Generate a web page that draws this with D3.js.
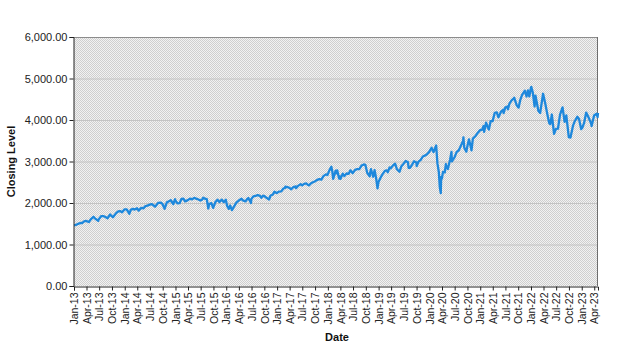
<!DOCTYPE html>
<html><head><meta charset="utf-8">
<script src="https://cdn.jsdelivr.net/npm/d3@7"></script>
<style>body{margin:0;background:#fff;}svg{display:block;}text{font-family:"Liberation Sans",Arial,sans-serif;}</style>
</head><body><div id="chart"></div>
<script>
const dates = ["2013-01-02","2013-01-15","2013-01-31","2013-02-15","2013-02-28","2013-03-15","2013-03-28","2013-04-18","2013-04-30","2013-05-21","2013-05-31","2013-06-24","2013-06-28","2013-07-15","2013-07-31","2013-08-15","2013-08-30","2013-09-18","2013-09-30","2013-10-08","2013-10-31","2013-11-15","2013-11-29","2013-12-13","2013-12-31",
"2014-01-15","2014-02-03","2014-02-14","2014-02-28","2014-03-14","2014-03-31","2014-04-11","2014-04-30","2014-05-15","2014-05-30","2014-06-13","2014-06-30","2014-07-15","2014-07-31","2014-08-07","2014-08-29","2014-09-18","2014-09-30","2014-10-15","2014-10-31","2014-11-14","2014-11-28","2014-12-16","2014-12-29","2014-12-31",
"2015-01-15","2015-01-30","2015-02-13","2015-02-27","2015-03-11","2015-03-31","2015-04-15","2015-04-30","2015-05-15","2015-05-29","2015-06-15","2015-06-29","2015-07-10","2015-07-20","2015-07-31","2015-08-14","2015-08-25","2015-08-31","2015-09-16","2015-09-29","2015-10-15","2015-10-30","2015-11-13","2015-11-30","2015-12-14","2015-12-29","2015-12-31",
"2016-01-08","2016-01-20","2016-01-29","2016-02-11","2016-02-29","2016-03-15","2016-03-31","2016-04-20","2016-04-29","2016-05-19","2016-05-31","2016-06-08","2016-06-27","2016-06-30","2016-07-15","2016-07-29","2016-08-15","2016-08-31","2016-09-09","2016-09-22","2016-09-30","2016-10-14","2016-11-04","2016-11-15","2016-11-30","2016-12-13","2016-12-30",
"2017-01-13","2017-01-31","2017-02-15","2017-02-28","2017-03-01","2017-03-15","2017-03-31","2017-04-13","2017-04-28","2017-05-16","2017-05-17","2017-05-31","2017-06-19","2017-06-30","2017-07-14","2017-07-31","2017-08-10","2017-08-18","2017-08-31","2017-09-15","2017-09-29","2017-10-16","2017-10-31","2017-11-15","2017-11-30","2017-12-18","2017-12-29",
"2018-01-12","2018-01-26","2018-02-02","2018-02-08","2018-02-26","2018-02-28","2018-03-09","2018-03-23","2018-03-29","2018-04-02","2018-04-18","2018-04-30","2018-05-15","2018-05-31","2018-06-12","2018-06-29","2018-07-16","2018-07-31","2018-08-15","2018-08-31","2018-09-20","2018-09-28","2018-10-11","2018-10-29","2018-10-31","2018-11-07","2018-11-23","2018-12-03","2018-12-14","2018-12-24","2018-12-31",
"2019-01-15","2019-01-31","2019-02-15","2019-02-28","2019-03-08","2019-03-21","2019-03-29","2019-04-15","2019-04-30","2019-05-13","2019-05-31","2019-06-14","2019-06-28","2019-07-15","2019-07-31","2019-08-05","2019-08-15","2019-08-30","2019-09-13","2019-09-30","2019-10-02","2019-10-15","2019-10-31","2019-11-15","2019-11-29","2019-12-13","2019-12-31",
"2020-01-17","2020-01-31","2020-02-19","2020-02-28","2020-03-09","2020-03-16","2020-03-23","2020-03-26","2020-03-31","2020-04-08","2020-04-21","2020-04-29","2020-04-30","2020-05-13","2020-05-29","2020-06-08","2020-06-11","2020-06-30","2020-07-15","2020-07-31","2020-08-14","2020-08-31","2020-09-02","2020-09-08","2020-09-23","2020-09-30","2020-10-12","2020-10-30","2020-11-09","2020-11-30","2020-12-15","2020-12-31",
"2021-01-15","2021-01-25","2021-01-29","2021-02-12","2021-02-26","2021-03-04","2021-03-17","2021-03-31","2021-04-15","2021-04-30","2021-05-12","2021-05-31","2021-06-15","2021-06-18","2021-06-30","2021-07-16","2021-07-19","2021-07-30","2021-08-16","2021-08-31","2021-09-02","2021-09-20","2021-09-30","2021-10-04","2021-10-15","2021-10-29","2021-11-18","2021-11-30","2021-12-10","2021-12-20","2021-12-31",
"2022-01-03","2022-01-14","2022-01-27","2022-02-02","2022-02-23","2022-03-08","2022-03-29","2022-04-14","2022-04-29","2022-05-12","2022-05-20","2022-05-31","2022-06-16","2022-06-30","2022-07-14","2022-07-29","2022-08-16","2022-08-31","2022-09-12","2022-09-30","2022-10-12","2022-10-31","2022-11-10","2022-11-30","2022-12-13","2022-12-28","2022-12-30",
"2023-01-05","2023-01-18","2023-02-02","2023-02-17","2023-03-09","2023-03-13","2023-03-31","2023-04-18","2023-04-25","2023-04-28"];
const closes = [1462,1472,1498,1519,1515,1560,1569,1541,1598,1669,1631,1573,1606,1682,1686,1661,1633,1725,1682,1656,1757,1798,1806,1775,1848,
1848,1742,1838,1859,1841,1872,1816,1884,1870,1924,1936,1960,1973,1931,1910,2003,2011,1972,1862,2018,2039,2068,1972,2090,2059,
1992,1995,2097,2105,2040,2068,2106,2086,2123,2107,2085,2058,2077,2129,2104,2092,1868,1972,1996,1884,2024,2079,2023,2080,2021,2078,2044,
1922,1859,1940,1829,1932,2015,2060,2102,2065,2040,2097,2119,2001,2099,2162,2174,2190,2171,2128,2177,2168,2133,2085,2180,2199,2272,2239,
2275,2279,2349,2364,2396,2385,2363,2329,2384,2400,2357,2412,2453,2423,2459,2470,2438,2425,2472,2500,2519,2557,2575,2564,2648,2690,2674,
2786,2873,2762,2581,2780,2714,2786,2588,2641,2582,2708,2648,2711,2705,2787,2718,2798,2816,2818,2902,2931,2914,2728,2641,2712,2814,2633,2790,2600,2351,2507,
2610,2704,2776,2784,2743,2855,2834,2906,2946,2812,2752,2887,2942,3014,2980,2844,2848,2926,3007,2977,2888,2996,3038,3120,3141,3169,3231,
3330,3226,3386,2954,2747,2386,2237,2630,2585,2750,2737,2939,2912,2820,3044,3232,3002,3100,3227,3271,3373,3500,3580,3332,3237,3363,3535,3270,3550,3622,3694,3756,
3768,3855,3714,3934,3811,3768,3974,3973,4170,4181,4063,4204,4246,4166,4298,4327,4258,4395,4479,4523,4537,4358,4308,4300,4471,4605,4705,4567,4712,4568,4766,
4797,4662,4326,4589,4225,4171,4632,4392,4132,3930,3901,4132,3667,3785,3790,4130,4305,3955,4110,3586,3577,3872,3956,4080,4019,3783,3840,
3808,3929,4179,4079,3919,3855,4109,4154,4071,4169];
const yTicks = [0,1000,2000,3000,4000,5000,6000];
const xTickMonths = d3.timeMonths(new Date(2013,0,1), new Date(2023,4,1), 3);
const yTitle = "Closing  Level";
const xTitle = "Date";

const W = 623, H = 357;
const m = {left:74, right:25, top:37, bottom:71};
const svg = d3.select("#chart").append("svg").attr("width",W).attr("height",H);
const defs = svg.append("defs");
const pat = defs.append("pattern").attr("id","chk").attr("patternUnits","userSpaceOnUse").attr("width",2).attr("height",2);
pat.append("rect").attr("width",2).attr("height",2).attr("fill","#f2f2f2");
pat.append("rect").attr("width",1).attr("height",1).attr("fill","#cfcfcf");
pat.append("rect").attr("x",1).attr("y",1).attr("width",1).attr("height",1).attr("fill","#cfcfcf");

const parse = d3.timeParse("%Y-%m-%d");
const data = dates.map((d,i)=>({date:parse(d), v:closes[i]}));
const x = d3.scaleTime().domain([new Date(2013,0,1), parse("2023-04-28")]).range([m.left, W-m.right]);
const y = d3.scaleLinear().domain([0,6000]).range([H-m.bottom, m.top]);

svg.append("rect").attr("x",m.left).attr("y",m.top).attr("width",W-m.right-m.left).attr("height",H-m.bottom-m.top).attr("fill","url(#chk)");
// gridlines
svg.append("g").selectAll("line").data(yTicks.slice(1,-1)).join("line")
  .attr("x1",m.left).attr("x2",W-m.right).attr("y1",d=>y(d)+0.5).attr("y2",d=>y(d)+0.5)
  .attr("stroke","#c4c4c4").attr("stroke-width",1);
// border
svg.append("line").attr("x1",m.left).attr("x2",W-m.right).attr("y1",m.top+0.5).attr("y2",m.top+0.5).attr("stroke","#8c8c8c");
svg.append("line").attr("x1",W-m.right-0.5).attr("x2",W-m.right-0.5).attr("y1",m.top).attr("y2",H-m.bottom).attr("stroke","#6e6e6e");

// line
svg.append("path").datum(data).attr("fill","none").attr("stroke","#1e88dc").attr("stroke-width",2.3).attr("stroke-linejoin","round")
  .attr("d", d3.line().x(d=>x(d.date)).y(d=>y(d.v)));

// y axis
const ya = svg.append("g").attr("transform",`translate(${m.left-0.5},0)`)
  .call(d3.axisLeft(y).tickValues(yTicks).tickSize(4).tickFormat(d3.format(",.2f")));
ya.select(".domain").attr("stroke","#222");
ya.selectAll(".tick line").attr("stroke","#222");
ya.selectAll("text").attr("font-size",11).attr("fill","#222").attr("x",-6);

// x axis
const xa = svg.append("g").attr("transform",`translate(0,${H-m.bottom+0.5})`)
  .call(d3.axisBottom(x).tickValues(xTickMonths).tickSize(4).tickFormat(d3.timeFormat("%b-%y")));
xa.select(".domain").attr("stroke","#222");
xa.selectAll(".tick line").attr("stroke","#222");
xa.selectAll("text").attr("font-size",10.5).attr("fill","#222")
  .attr("transform","rotate(-90)").attr("text-anchor","end").attr("x",-6).attr("y",0).attr("dy","0.35em");

svg.append("text").attr("transform",`translate(15,${(m.top+H-m.bottom)/2}) rotate(-90)`).attr("text-anchor","middle")
  .attr("font-size",11).attr("font-weight","bold").attr("fill","#111").text(yTitle);
svg.append("text").attr("x",337).attr("y",341).attr("text-anchor","middle")
  .attr("font-size",11).attr("font-weight","bold").attr("fill","#111").text(xTitle);
</script></body></html>
